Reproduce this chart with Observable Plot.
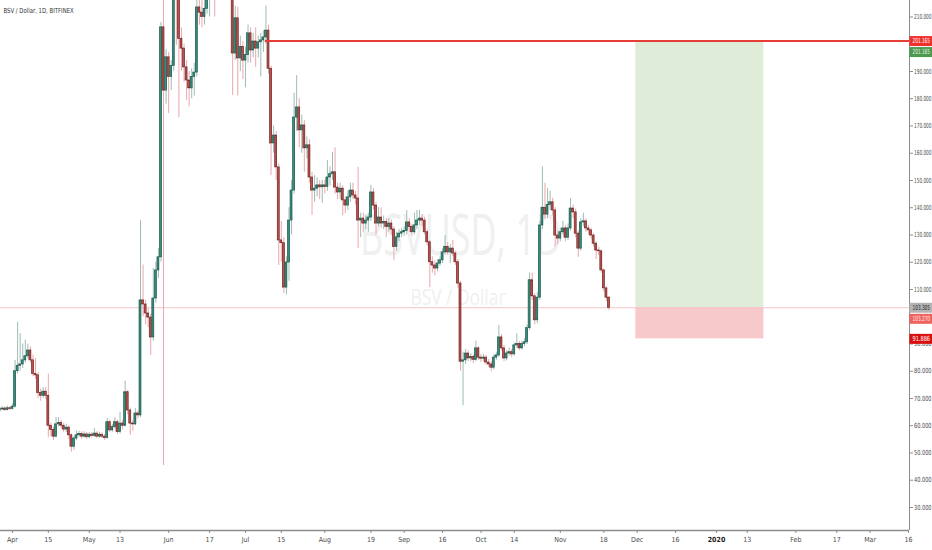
<!DOCTYPE html>
<html>
<head>
<meta charset="utf-8">
<script src="https://cdn.jsdelivr.net/npm/d3@7"></script>
<script src="https://cdn.jsdelivr.net/npm/@observablehq/plot@0.6"></script>
<style>
  body { margin: 0; background: #fff; }
  #chart { width: 932px; height: 550px; }
</style>
</head>
<body>
<div id="chart"></div>
<script>
// daily BSV/USD candles (Bitfinex), first bar 2019-03-27, open of each bar = previous close
const firstDay = new Date(Date.UTC(2019, 2, 27));
const firstOpen = 65.5;
const close = [
  66.0, 66.3, 65.8, 66.4, 66.2, 67.0, 80.0, 82.0, 82.5, 84.0,
  85.5, 87.6, 84.0, 79.0, 78.5, 72.0, 71.0, 72.5, 71.0, 60.0,
  58.5, 56.0, 60.5, 61.0, 60.0, 58.6, 59.3, 56.5, 52.3, 55.3,
  56.5, 57.0, 56.0, 56.8, 55.8, 56.7, 56.3, 57.1, 56.0, 56.7,
  56.0, 55.5, 61.3, 58.3, 59.5, 61.3, 57.7, 60.8, 60.0, 72.3,
  65.6, 60.8, 60.5, 64.5, 63.8, 106.0, 104.5, 101.2, 99.7, 92.4,
  106.7, 117.0, 121.8, 206.2, 183.0, 195.2, 188.0, 192.0, 230.0, 222.0,
  202.0, 198.4, 191.5, 186.7, 183.8, 188.0, 189.6, 213.5, 211.6, 210.0,
  213.0, 220.0, 226.0, 232.0, 225.0, 235.0, 245.0, 250.0, 238.0, 245.0,
  240.0, 196.6, 209.5, 194.8, 199.0, 194.0, 196.0, 204.0, 197.7, 201.0,
  198.4, 200.7, 201.4, 202.5, 205.0, 191.0, 163.6, 166.5, 154.8, 128.0,
  127.0, 110.7, 119.9, 135.3, 146.3, 173.1, 176.8, 168.4, 170.2, 161.8,
  162.9, 151.1, 146.3, 147.0, 148.2, 147.5, 148.2, 147.6, 151.1, 152.3,
  153.0, 147.4, 145.6, 147.0, 142.7, 140.8, 143.8, 146.3, 144.5, 143.4,
  135.3, 136.0, 134.2, 135.3, 136.4, 145.6, 140.8, 134.2, 136.4, 134.2,
  134.8, 132.9, 134.2, 132.0, 125.6, 129.1, 130.5, 131.0, 131.5, 134.6,
  132.9, 131.0, 133.5, 135.3, 136.0, 135.3, 131.0, 127.3, 120.0, 118.8,
  117.7, 119.5, 120.7, 123.6, 125.6, 123.6, 125.0, 123.2, 120.0, 112.2,
  83.5, 84.0, 86.5, 84.7, 85.2, 84.2, 88.4, 85.0, 84.6, 85.0,
  83.2, 82.5, 81.3, 85.0, 85.8, 92.4, 88.4, 84.7, 86.5, 87.0,
  86.2, 89.5, 90.0, 88.4, 90.0, 90.6, 95.8, 113.4, 107.5, 98.7,
  107.0, 133.5, 140.0, 137.5, 141.0, 142.0, 139.0, 129.8, 128.7, 131.0,
  132.4, 129.0, 132.4, 139.7, 138.3, 130.5, 125.0, 134.6, 135.0, 132.4,
  131.7, 129.8, 126.8, 124.3, 124.0, 117.0, 110.4, 107.0, 103.27
];
const high = [
  67, 67, 67, 67.2, 67, 68, 84, 98, 93.8, 90,
  91.4, 90, 89, 86, 84.7, 79.5, 73.5, 74, 74, 79,
  61, 59.5, 63, 63, 62, 61, 60.5, 60, 57, 56,
  58, 58, 57.8, 57.8, 57.5, 57.5, 57.5, 59, 57.8, 57.6,
  57.4, 56.8, 62.7, 62, 60.5, 63, 62, 65, 62, 76.4,
  73, 66.5, 62, 66.3, 65.5, 135.3, 119, 106, 103, 101,
  117.7, 120, 125, 208, 225, 198, 197, 194, 236, 240,
  228, 206, 200, 194, 190, 191, 193, 222, 222, 218,
  220, 228, 232, 238, 236, 240, 252, 258, 252, 250,
  248, 242, 214, 213.5, 203, 201, 199, 207, 206, 204,
  206, 203, 204, 205, 214, 207, 192, 170, 168, 156,
  135, 129, 122, 140, 150, 182, 188.5, 180, 174, 172,
  166, 165, 153, 151.8, 151, 150, 150, 150, 157.3, 155,
  160.3, 162, 149, 149, 148, 144, 146, 149, 149, 146,
  154.8, 138, 138, 137, 138, 148.2, 147, 142, 140, 140,
  137, 136, 136, 135.5, 133, 131, 132, 132.5, 133, 139,
  136, 134, 138, 139, 139, 137.5, 136.5, 132, 128, 122,
  120.5, 121, 122, 125, 129.8, 127.2, 126.5, 128, 124, 121,
  113, 87, 88, 87.5, 86.5, 86, 91, 89, 86.2, 86.2,
  85.8, 84.3, 83.5, 86, 87, 96.8, 93.5, 89.5, 87.5, 88.5,
  88, 90.5, 93.8, 91, 91, 92, 97, 116, 116, 108.5,
  109, 135, 155, 149, 147, 146, 143.5, 140, 131.5, 132.5,
  135, 133.5, 134, 143.4, 141, 139.5, 131.5, 136, 138, 136,
  133.5, 132.5, 130.5, 127.5, 125.5, 124.5, 117.5, 111, 107.5
];
const low = [
  65, 65.5, 65.2, 65.4, 65.6, 65.8, 66.5, 79, 80, 81,
  83, 84.5, 83, 78, 77, 70, 69, 70, 69.5, 55.6,
  56, 54.5, 55.5, 59.5, 59, 57.5, 57.5, 55, 50.3, 51,
  54.5, 55.8, 55, 55.4, 55, 55.2, 55.5, 55.8, 55.2, 55.4,
  55.3, 54.6, 55, 57.5, 57.6, 58.8, 56.8, 57, 58.5, 59.5,
  64, 56.5, 58, 60, 62.5, 63, 100, 97, 96, 85.8,
  91, 105, 114, 120, 45.4, 178, 174.6, 183, 190, 199.5,
  173, 190, 186, 179.4, 177, 180, 181, 188, 207, 206,
  207, 211, 210, 222, 210, 222, 230, 240, 228, 232,
  226, 181.2, 194, 181, 190, 187, 184, 193, 193, 195,
  191.5, 195, 188, 197, 200, 189, 151.8, 160, 150, 118.8,
  120, 108.5, 108, 113, 130, 145, 168, 162, 160, 153,
  158, 149, 137.2, 142, 144, 143, 141.6, 145, 146, 148,
  150, 145, 143, 143, 137, 137.9, 139, 142, 143, 141,
  125, 129, 131, 132, 131, 135, 139, 130, 133, 132.5,
  132, 129, 131, 130, 120.6, 124, 127.5, 129, 129.5, 130,
  131, 129.5, 130, 132, 133.5, 133, 130, 126, 110.7, 116,
  115, 116.5, 118.5, 119.5, 122.5, 122.5, 119.5, 122, 118.8, 110.5,
  80, 67.4, 82.5, 83.5, 83.5, 82.8, 83.5, 84, 83.2, 83.5,
  82.2, 81.5, 79.8, 80.5, 84, 85, 87.5, 83.5, 83.8, 85.5,
  85, 85.5, 88.5, 87.5, 87.8, 89, 89.8, 95, 106, 97,
  97.5, 106, 132, 135.5, 136, 139, 137, 125.6, 126.5, 127.5,
  130, 127.5, 128, 131.5, 136, 129, 121.8, 124, 133, 131,
  130, 128.5, 125.5, 121, 122.5, 116, 109, 105.5, 102.3
];

// long position drawn on the chart
const entry = 103.305;
const target = 201.165;
const stop = 91.886;
const lastPrice = 103.27;
const positionStart = new Date(Date.UTC(2019, 10, 30, 12));
const positionEnd = new Date(Date.UTC(2020, 0, 19, 12));
const targetLineStart = new Date(Date.UTC(2019, 6, 8, 18));

// axes
const priceTicks = d3.range(30, 211, 10);
const timeTicks = [
  [2019, 3, 1, "Apr"], [2019, 3, 15, "15"], [2019, 4, 1, "May"], [2019, 4, 13, "13"],
  [2019, 5, 1, "Jun"], [2019, 5, 17, "17"], [2019, 6, 1, "Jul"], [2019, 6, 15, "15"],
  [2019, 7, 1, "Aug"], [2019, 7, 19, "19"], [2019, 8, 1, "Sep"], [2019, 8, 16, "16"],
  [2019, 9, 1, "Oct"], [2019, 9, 14, "14"], [2019, 10, 1, "Nov"], [2019, 10, 18, "18"],
  [2019, 11, 1, "Dec"], [2019, 11, 16, "16"], [2020, 0, 1, "2020"], [2020, 0, 13, "13"],
  [2020, 1, 1, "Feb"], [2020, 1, 17, "17"], [2020, 2, 1, "Mar"], [2020, 2, 16, "16"]
];
const xStart = new Date(Date.UTC(2019, 2, 27, 7, 30));
const xEnd = new Date(Date.UTC(2020, 2, 16, 9, 20));

const upFill = "#34907e", upLine = "#1e574b", upWick = "#9dbdb3";
const downFill = "#c24f4b", downLine = "#6a2523", downWick = "#eca7ad";

const candles = close.map((c, i) => {
  const date = d3.utcDay.offset(firstDay, i);
  const open = i ? close[i - 1] : firstOpen;
  return {date, open, close: c, high: high[i], low: low[i], up: c >= open};
});

const tickLabel = new Map(timeTicks.map(([y, m, d, s]) => [Date.UTC(y, m, d), s]));
const tickDates = timeTicks.map(([y, m, d]) => new Date(Date.UTC(y, m, d)));
const boldTick = tickDates.filter(d => tickLabel.get(+d) === "2020");
const plainTicks = tickDates.filter(d => tickLabel.get(+d) !== "2020");

const priceLabels = [
  {value: target, bg: "#f0302c", fg: "#ffffff", shift: 0},
  {value: target, bg: "#4c9a4f", fg: "#e8f5e0", shift: 11},
  {value: entry, bg: "#b4b4b4", fg: "#222222", shift: 0},
  {value: lastPrice, bg: "#ef6461", fg: "#ffe9e9", shift: 11},
  {value: stop, bg: "#d90f0f", fg: "#ffffff", shift: 0}
];
const labelEnd = d3.utcHour.offset(xEnd, 9 * 24);
const labelFont = `"DejaVu Sans Condensed", "Liberation Sans Narrow", "Roboto", sans-serif`;

function labelMarks(shift) {
  const rows = priceLabels.filter(d => d.shift === shift);
  return [
    Plot.ruleY(rows, {y: "value", x1: () => d3.utcHour.offset(xEnd, 4), x2: () => labelEnd,
      stroke: "bg", strokeWidth: 10, dy: shift, clip: false}),
    Plot.text(rows, {y: "value", x: () => xEnd, text: d => d.value.toFixed(3), fill: "fg",
      textAnchor: "start", dx: 3, dy: shift, fontSize: 7, clip: false, className: "narrow"})
  ];
}

const chart = Plot.plot({
  width: 932,
  height: 550,
  marginLeft: 0,
  marginRight: 23,
  marginTop: 0,
  marginBottom: 20,
  x: {type: "utc", domain: [xStart, xEnd], axis: null},
  y: {domain: [21.56, 216.05], axis: null},
  color: {type: "identity"},
  style: {fontFamily: labelFont, fontSize: "8px", background: "#fff", overflow: "visible"},
  marks: [
    // watermark
    Plot.text(["BSVUSD, 1D"], {frameAnchor: "middle", dx: 6, dy: -28, fontSize: 56,
      fill: "#f0f0f0", fontFamily: "Open Sans, sans-serif", className: "wm-big"}),
    Plot.text(["BSV / Dollar"], {frameAnchor: "middle", dx: 3, dy: 32, fontSize: 22,
      fill: "#f0f0f0", fontFamily: "Open Sans, sans-serif", className: "wm-small"}),
    // position boxes
    Plot.rect([0], {x1: () => positionStart, x2: () => positionEnd, y1: () => entry, y2: () => target,
      fill: "#dfecd8"}),
    Plot.rect([0], {x1: () => positionStart, x2: () => positionEnd, y1: () => stop, y2: () => entry,
      fill: "#f7c9cb"}),
    Plot.ruleY([entry], {stroke: "#f6c3c8", strokeWidth: 1}),
    // candles
    Plot.ruleX(candles, {x: "date", y1: "low", y2: "high",
      stroke: d => d.up ? upWick : downWick, strokeWidth: 1, clip: true}),
    Plot.rect(candles, {
      x1: d => d3.utcHour.offset(d.date, -9),
      x2: d => d3.utcHour.offset(d.date, 9),
      y1: "open", y2: "close",
      fill: d => d.up ? upFill : downFill,
      stroke: d => d.up ? upLine : downLine,
      strokeWidth: 0.7,
      clip: true
    }),
    // target line
    Plot.ruleY([target], {x1: () => targetLineStart, x2: () => xEnd, stroke: "#e63d36", strokeWidth: 2}),
    // frame
    Plot.ruleX([xEnd], {stroke: "#8d8d8d", strokeWidth: 1}),
    Plot.ruleY([21.56], {stroke: "#8d8d8d", strokeWidth: 1.5}),
    // axes
    Plot.axisY(priceTicks, {anchor: "right", tickFormat: d => d.toFixed(3), tickSize: 3,
      tickPadding: 1.5, fill: "#4a4a4a", stroke: "#8d8d8d", fontSize: 7, className: "narrow"}),
    Plot.axisX(plainTicks, {anchor: "bottom", tickFormat: d => tickLabel.get(+d), tickSize: 3,
      tickPadding: 4, fill: "#4a4a4a", stroke: "#8d8d8d", fontSize: 7}),
    Plot.axisX(boldTick, {anchor: "bottom", tickFormat: d => tickLabel.get(+d), tickSize: 3,
      tickPadding: 4, fill: "#222", stroke: "#8d8d8d", fontSize: 7, fontWeight: "bold"}),
    // price labels on the scale
    ...labelMarks(0),
    ...labelMarks(11),
    // title
    Plot.text(["BSV / Dollar, 1D, BITFINEX"], {frameAnchor: "top-left", dx: 3, dy: 8,
      fontSize: 7, fill: "#333", className: "title"})
  ]
});

document.getElementById("chart").append(chart);

// the reference screenshot is horizontally condensed: squeeze text widths to match
function squeeze(selector, width) {
  chart.querySelectorAll(selector).forEach(t => {
    const w = typeof width === "function" ? width(t) : width;
    if (!(w > 0)) return;
    t.setAttribute("textLength", w);
    t.setAttribute("lengthAdjust", "spacingAndGlyphs");
  });
}
squeeze(".narrow text", 17.5);
squeeze(".wm-big text", 202);
squeeze(".wm-small text", 95);
squeeze(".title text", t => t.getComputedTextLength() * 0.85);
</script>
</body>
</html>
